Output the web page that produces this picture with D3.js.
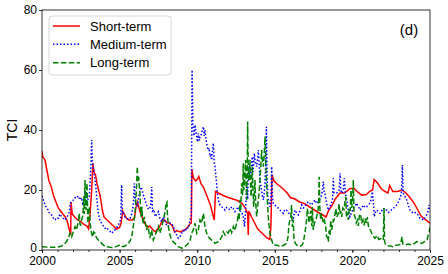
<!DOCTYPE html>
<html><head><meta charset="utf-8">
<script src="https://cdn.jsdelivr.net/npm/d3@7"></script>
<style>body{margin:0;background:#fff}svg{display:block}text{font-family:"Liberation Sans",Arial,sans-serif}</style>
</head><body>
<svg id="c" width="448" height="274"></svg>
<script>
const xTicks = [2000, 2005, 2010, 2015, 2020, 2025];
const yTicks = [0, 20, 40, 60, 80];
const seriesNames = ["Short-term", "Medium-term", "Long-term"];
const panelLabel = "(d)";
const yLabel = "TCI";

const shortTerm = [
[2000.0,33],[2000.05,31],[2000.2,30],[2000.3,27],[2000.45,23],[2000.6,21],[2000.75,18],[2000.9,16],[2001.05,14],[2001.2,13],[2001.35,12],[2001.5,11],[2001.6,10],[2001.7,8],[2001.8,6],[2001.85,5],[2001.87,16],[2001.95,12],[2002.1,11],[2002.3,10],[2002.5,9.5],[2002.7,8.5],[2002.9,8],[2003.0,7],[2003.1,12],[2003.2,20],[2003.28,29],[2003.35,26],[2003.45,25],[2003.55,22],[2003.65,20],[2003.75,18],[2003.9,13],[2004.0,11],[2004.2,10],[2004.4,9],[2004.6,8],[2004.8,7],[2005.0,7.5],[2005.1,9],[2005.2,13],[2005.3,12],[2005.45,10.5],[2005.6,10],[2005.8,10],[2005.95,10.5],[2006.05,14],[2006.15,16],[2006.3,13],[2006.45,11],[2006.6,9],[2006.8,7.5],[2006.95,8],[2007.1,7],[2007.3,6],[2007.45,7],[2007.6,8],[2007.75,10],[2007.9,10],[2008.05,9],[2008.2,9],[2008.4,8],[2008.55,6],[2008.7,6.5],[2008.9,6],[2009.1,6.5],[2009.3,7],[2009.5,8.5],[2009.62,9],[2009.66,27],[2009.75,24],[2009.9,23],[2010.0,23.5],[2010.1,24.5],[2010.25,22],[2010.4,21],[2010.55,19],[2010.7,17],[2010.85,15],[2011.0,12],[2011.1,10],[2011.18,19.5],[2011.35,19],[2011.55,18.5],[2011.75,18],[2012.0,17.5],[2012.3,17],[2012.6,16.5],[2012.9,15.5],[2013.1,14],[2013.25,12],[2013.29,5],[2013.33,13],[2013.5,11],[2013.7,9],[2013.9,7],[2014.1,6],[2014.3,5],[2014.5,4],[2014.68,3.5],[2014.75,8],[2014.82,25],[2014.95,23],[2015.15,22],[2015.4,21],[2015.6,20],[2015.8,19],[2016.0,17.5],[2016.3,17],[2016.6,16],[2016.9,15.5],[2017.2,14.5],[2017.5,13.5],[2017.8,12.5],[2018.0,12],[2018.3,11],[2018.45,13],[2018.7,15],[2018.9,17],[2019.2,19],[2019.5,19],[2019.85,20.5],[2020.1,20.5],[2020.3,19.5],[2020.6,18.3],[2020.9,18.5],[2021.1,19.5],[2021.3,20],[2021.4,23.5],[2021.6,22.5],[2021.85,20.5],[2022.1,19.5],[2022.3,19],[2022.4,21.5],[2022.6,19.5],[2022.9,19.5],[2023.2,20],[2023.45,19],[2023.7,17.5],[2023.95,15.8],[2024.2,13.5],[2024.4,11.5],[2024.6,10.5],[2024.8,9.8],[2025.0,8.9]
];

const mediumTerm = [
[2000.0,18],[2000.1,16.5],[2000.2,15],[2000.3,14],[2000.4,13.3],[2000.5,12],[2000.62,11.7],[2000.75,10.5],[2000.84,10],[2000.95,10.8],[2001.05,10.6],[2001.15,12],[2001.27,11.1],[2001.38,10.5],[2001.48,10],[2001.6,11],[2001.7,11.7],[2001.78,13],[2001.82,15.6],[2001.92,16],[2002.02,16.7],[2002.12,17.5],[2002.23,17.2],[2002.33,18],[2002.45,16.7],[2002.55,17.5],[2002.62,15.6],[2002.7,16.5],[2002.77,19.4],[2002.85,17],[2002.95,16.8],[2003.05,18],[2003.14,26.7],[2003.2,36.7],[2003.25,29],[2003.32,27],[2003.41,23.3],[2003.47,21],[2003.52,17.8],[2003.58,14.5],[2003.63,12.2],[2003.73,10],[2003.84,8.9],[2003.95,8],[2004.06,7.2],[2004.17,7.5],[2004.27,6.7],[2004.38,6.2],[2004.49,5.6],[2004.6,6.2],[2004.7,6.7],[2004.82,7.5],[2004.92,8.3],[2005.02,9.5],[2005.07,10],[2005.13,21.7],[2005.18,12],[2005.24,12.2],[2005.35,11],[2005.46,10.6],[2005.56,10.2],[2005.67,10.6],[2005.78,12],[2005.88,15],[2005.95,22.2],[2006.02,16],[2006.14,14.4],[2006.22,17],[2006.31,20],[2006.4,21],[2006.53,18.3],[2006.62,17],[2006.7,15.6],[2006.8,14],[2006.9,13.5],[2007.0,14.5],[2007.07,21],[2007.12,13],[2007.2,13.5],[2007.3,11.1],[2007.4,12],[2007.5,12.8],[2007.6,10.5],[2007.71,9.4],[2007.82,11],[2007.93,9.5],[2008.03,8.3],[2008.14,7.8],[2008.25,9],[2008.35,8.9],[2008.46,7.8],[2008.57,6.1],[2008.68,5],[2008.78,3.9],[2008.9,4.5],[2009.0,5.6],[2009.1,6.5],[2009.21,6.1],[2009.32,7.5],[2009.43,7.2],[2009.54,10],[2009.62,12],[2009.67,60],[2009.72,42],[2009.75,40],[2009.8,38],[2009.86,41.7],[2009.92,39],[2009.97,37.8],[2010.02,36],[2010.07,38.9],[2010.13,36.5],[2010.18,37.8],[2010.24,38],[2010.29,39.4],[2010.35,40],[2010.4,41.1],[2010.45,38],[2010.5,40],[2010.56,37],[2010.61,35.6],[2010.67,34],[2010.72,33.3],[2010.77,34],[2010.82,31.1],[2010.88,31.5],[2010.93,30],[2010.98,33],[2011.04,35.6],[2011.1,29],[2011.15,27.8],[2011.2,25],[2011.25,22.2],[2011.3,19],[2011.36,16.7],[2011.47,15],[2011.58,14.4],[2011.68,14],[2011.79,13.3],[2011.9,14.2],[2012.0,13.9],[2012.1,13.4],[2012.22,14.4],[2012.33,13.8],[2012.43,12.8],[2012.54,13.5],[2012.65,14.4],[2012.76,13],[2012.86,12.8],[2012.97,11],[2013.05,7.8],[2013.1,11.7],[2013.19,21.1],[2013.25,17],[2013.3,27.8],[2013.35,24],[2013.4,23.3],[2013.47,26],[2013.55,31.1],[2013.6,26],[2013.68,32.2],[2013.75,29],[2013.83,27.8],[2013.88,30],[2013.94,33.3],[2014.0,28],[2014.05,23.3],[2014.1,21.5],[2014.15,20],[2014.2,18],[2014.26,16.7],[2014.32,19],[2014.37,22.2],[2014.42,30],[2014.46,41.1],[2014.5,25],[2014.55,17.8],[2014.62,16],[2014.69,14.4],[2014.75,16],[2014.8,27.8],[2014.85,18],[2014.9,15.6],[2015.0,15],[2015.12,14.4],[2015.22,14],[2015.33,13.3],[2015.44,12.8],[2015.55,12.2],[2015.65,13.5],[2015.76,13.3],[2015.87,12.5],[2015.98,11.7],[2016.08,11],[2016.19,10.6],[2016.3,13.3],[2016.4,12.5],[2016.51,11.7],[2016.62,13],[2016.73,15],[2016.84,14],[2016.94,14.4],[2017.05,15.5],[2017.16,16.1],[2017.27,15.5],[2017.37,15],[2017.48,16],[2017.59,16.7],[2017.7,15.5],[2017.8,16],[2017.91,17],[2018.02,18.3],[2018.13,22.8],[2018.18,19],[2018.23,18.9],[2018.34,15.6],[2018.45,13.3],[2018.55,14.5],[2018.66,15.6],[2018.72,17],[2018.77,23.9],[2018.82,19],[2018.88,18.9],[2018.98,19],[2019.09,19.4],[2019.15,20],[2019.2,25.6],[2019.25,20],[2019.31,18.9],[2019.4,19.5],[2019.48,23.9],[2019.55,19],[2019.63,16.7],[2019.74,13],[2019.84,11.1],[2019.95,12.5],[2020.06,13.9],[2020.17,14.5],[2020.27,15.6],[2020.38,14.5],[2020.49,13.3],[2020.6,14],[2020.7,15],[2020.81,14.2],[2020.92,14.4],[2021.02,15],[2021.13,15.6],[2021.22,17],[2021.28,19.4],[2021.35,16],[2021.41,11.1],[2021.48,12.5],[2021.56,13.3],[2021.67,12.8],[2021.78,12.2],[2021.88,13],[2021.99,13.9],[2022.1,13.2],[2022.21,13.3],[2022.32,12.5],[2022.42,12.8],[2022.53,13.5],[2022.64,13.9],[2022.75,14.5],[2022.85,15],[2022.96,16],[2023.07,17.2],[2023.17,19.4],[2023.22,28.3],[2023.27,19],[2023.35,18.3],[2023.42,17.5],[2023.5,16.7],[2023.6,15],[2023.71,13.3],[2023.82,12.8],[2023.92,12.2],[2024.03,12.5],[2024.14,12.2],[2024.25,11.5],[2024.35,10.6],[2024.46,10.5],[2024.57,10],[2024.68,10.8],[2024.78,11.7],[2024.88,13],[2024.93,15],[2025.0,13.3]
];

const longTerm = [
[2000.0,1.1],[2000.5,0.9],[2000.95,0.9],[2001.27,1.3],[2001.48,2.2],[2001.6,3],[2001.7,3.9],[2001.8,5.6],[2001.91,4.4],[2002.02,6.1],[2002.13,7.8],[2002.23,6.7],[2002.34,9.4],[2002.4,12.2],[2002.45,8.5],[2002.49,8.3],[2002.55,10],[2002.62,11.1],[2002.66,14],[2002.7,17.8],[2002.73,12],[2002.77,23.3],[2002.8,16],[2002.84,13.3],[2002.87,19],[2002.9,22.2],[2002.93,15],[2002.96,8.9],[2003.0,12],[2003.05,14.4],[2003.1,9],[2003.14,7.2],[2003.2,5.5],[2003.26,4.4],[2003.33,6],[2003.41,5.6],[2003.5,4.2],[2003.63,3.3],[2003.74,2.8],[2003.84,2.2],[2004.0,1.5],[2004.17,1.1],[2004.4,0.9],[2004.6,0.8],[2004.8,1.2],[2005.03,1.7],[2005.15,1.2],[2005.24,1.1],[2005.4,1.5],[2005.56,2.2],[2005.68,3],[2005.78,4.4],[2005.88,7.8],[2005.99,12.2],[2006.06,17.8],[2006.1,22],[2006.14,27.8],[2006.18,23],[2006.23,24.4],[2006.27,21],[2006.31,18.9],[2006.35,14],[2006.38,11.1],[2006.44,14.4],[2006.48,10],[2006.53,8.9],[2006.58,11],[2006.64,10],[2006.7,7.5],[2006.74,6.7],[2006.8,8],[2006.85,7.8],[2006.9,5.5],[2006.96,4.4],[2007.02,5.5],[2007.07,6.7],[2007.12,4.5],[2007.17,3.3],[2007.22,4],[2007.28,5],[2007.38,6],[2007.5,7.8],[2007.55,6.5],[2007.6,5.6],[2007.7,7.5],[2007.82,10],[2007.88,11.5],[2007.93,12.8],[2008.0,15.6],[2008.05,16],[2008.08,12],[2008.14,7.8],[2008.25,5],[2008.35,3.3],[2008.57,2.2],[2008.78,1.1],[2009.0,0.6],[2009.21,1.1],[2009.43,2.2],[2009.55,3.5],[2009.64,5.6],[2009.75,6.7],[2009.86,8.9],[2009.97,5.6],[2010.07,6.7],[2010.18,10],[2010.29,9],[2010.35,11],[2010.4,12.2],[2010.45,10],[2010.5,7.8],[2010.61,5.6],[2010.72,4.4],[2010.82,3.8],[2010.93,3.3],[2011.04,2.8],[2011.15,2.2],[2011.36,2.8],[2011.47,3.5],[2011.58,4.4],[2011.68,6.1],[2011.79,5],[2011.9,6],[2012.0,5.6],[2012.11,7.2],[2012.22,5.8],[2012.33,7.8],[2012.43,6.5],[2012.54,8.9],[2012.6,10],[2012.65,12.2],[2012.7,10],[2012.76,16.7],[2012.8,13],[2012.86,22.2],[2012.92,18],[2012.97,28.9],[2013.0,20],[2013.04,21.1],[2013.08,26],[2013.12,30],[2013.16,22],[2013.19,16.7],[2013.22,25],[2013.25,42.8],[2013.28,30],[2013.32,23.3],[2013.36,26],[2013.4,30],[2013.44,22],[2013.47,17.8],[2013.51,22],[2013.55,27.8],[2013.6,19],[2013.64,14.4],[2013.68,18],[2013.72,23.3],[2013.77,16],[2013.83,11.1],[2013.88,14],[2013.94,16.7],[2014.0,20],[2014.05,24.4],[2014.1,28],[2014.15,33.3],[2014.2,30],[2014.26,27.8],[2014.32,32],[2014.37,37.8],[2014.4,33],[2014.43,27.8],[2014.48,21],[2014.52,16.7],[2014.58,11.1],[2014.63,8],[2014.69,5.6],[2014.8,3.3],[2014.9,1.7],[2015.12,1.7],[2015.33,1.1],[2015.55,1.5],[2015.76,2.2],[2015.85,4.3],[2015.92,8.8],[2016.03,11],[2016.08,15],[2016.13,7.7],[2016.19,10],[2016.24,3.2],[2016.35,2],[2016.45,1.5],[2016.6,1.2],[2016.73,1.5],[2016.84,2.5],[2016.95,6],[2017.05,10],[2017.1,13.8],[2017.16,11],[2017.22,9],[2017.26,11.7],[2017.32,13],[2017.38,8],[2017.42,14.3],[2017.48,6.7],[2017.55,9],[2017.64,9.9],[2017.7,11.1],[2017.78,13],[2017.82,15.4],[2017.86,24.4],[2017.9,14.3],[2017.96,10],[2018.02,12],[2018.13,8.9],[2018.2,9.9],[2018.28,7.7],[2018.34,4.4],[2018.39,4.3],[2018.45,2.8],[2018.5,6.5],[2018.56,5],[2018.6,9.9],[2018.66,6.7],[2018.71,8],[2018.77,10],[2018.82,9.9],[2018.88,12],[2018.93,13.8],[2019.0,11],[2019.09,12.2],[2019.14,15.4],[2019.2,12],[2019.25,13],[2019.31,11],[2019.38,14],[2019.46,13.5],[2019.52,16.1],[2019.57,17.7],[2019.62,11],[2019.68,12.5],[2019.74,10],[2019.8,14],[2019.86,13],[2019.91,20],[2019.96,14],[2020.02,18],[2020.06,23.3],[2020.1,12.1],[2020.17,11.1],[2020.25,9],[2020.32,9.9],[2020.38,8],[2020.45,11.5],[2020.53,12],[2020.6,8.9],[2020.68,10],[2020.75,8.2],[2020.81,10.5],[2020.9,9],[2020.96,11],[2021.02,8.3],[2021.1,7],[2021.18,6.5],[2021.24,5.6],[2021.32,5],[2021.39,4.3],[2021.45,3.9],[2021.55,4.5],[2021.61,4.8],[2021.7,3.5],[2021.82,3.8],[2021.9,3.5],[2021.99,3.3],[2022.04,14],[2022.07,3],[2022.14,1.7],[2022.3,1.4],[2022.47,1.3],[2022.6,1.1],[2022.8,1.6],[2022.96,1.7],[2023.1,1.9],[2023.2,4.4],[2023.25,2],[2023.39,1.7],[2023.6,2],[2023.82,1.7],[2024.0,2.2],[2024.14,2.8],[2024.3,2.5],[2024.46,2.2],[2024.6,2.6],[2024.72,3.2],[2024.82,3.5],[2024.89,5.2],[2024.95,6],[2025.0,7.5]
];

const svg = d3.select("#c");
const m = {l: 42, r: 18, t: 10, b: 24};
const W = 448, H = 274;
const x = d3.scaleLinear().domain([2000, 2025]).range([m.l, W - m.r]);
const y = d3.scaleLinear().domain([0, 80]).range([H - m.b, m.t]);

svg.append("clipPath").attr("id", "pc").append("rect")
  .attr("x", m.l).attr("y", m.t).attr("width", W - m.r - m.l).attr("height", H - m.b - m.t);

const line = d3.line().x(d => x(d[0])).y(d => y(d[1]));
const g = svg.append("g").attr("clip-path", "url(#pc)");
const styles = [
  {data: shortTerm, color: "#ff0000", dash: null},
  {data: mediumTerm, color: "#0000ff", dash: "1.5,2"},
  {data: longTerm, color: "#008000", dash: "5.5,2.4"}
];
styles.forEach(s => {
  g.append("path").datum(s.data).attr("d", line)
    .attr("fill", "none").attr("stroke", s.color).attr("stroke-width", 1.5)
    .attr("stroke-dasharray", s.dash);
});

// axes
const xAxis = d3.axisBottom(x).tickValues(xTicks).tickFormat(d3.format("d")).tickSize(3).tickPadding(3.5);
const xMinor = d3.axisBottom(x).tickValues(d3.range(2000, 2026)).tickFormat("").tickSize(2);
const yAxis = d3.axisLeft(y).tickValues(yTicks).tickSize(3).tickPadding(2);

const gx = svg.append("g").attr("transform", `translate(0,${H - m.b})`).call(xAxis);
svg.append("g").attr("transform", `translate(0,${H - m.b})`).call(xMinor).select(".domain").remove();
const gy = svg.append("g").attr("transform", `translate(${m.l},0)`).call(yAxis);
[gx, gy].forEach(a => {
  a.selectAll("text").attr("font-size", 12).attr("fill", "#000").style("font-family", '"Liberation Sans",Arial,sans-serif');
  a.select(".domain").remove();
});
gy.selectAll(".tick").filter(d => d === 0).select("text").attr("dy", "0.1em");
svg.selectAll(".tick line").attr("stroke", "#000").attr("stroke-width", 0.8);

// frame
svg.append("rect").attr("x", m.l).attr("y", m.t).attr("width", W - m.r - m.l).attr("height", H - m.b - m.t)
  .attr("fill", "none").attr("stroke", "#000").attr("stroke-width", 0.8);

// y label
svg.append("text").attr("transform", `translate(17,${(m.t + H - m.b) / 2}) rotate(-90)`)
  .attr("text-anchor", "middle").attr("font-size", 14).text(yLabel);

// panel label
svg.append("text").attr("x", 409).attr("y", 35).attr("text-anchor", "middle").attr("font-size", 15).text(panelLabel);

// legend
const lg = svg.append("g");
lg.append("rect").attr("x", 49).attr("y", 16).attr("width", 122).attr("height", 59).attr("rx", 3)
  .attr("fill", "#fff").attr("fill-opacity", 0.8).attr("stroke", "#cccccc").attr("stroke-width", 0.8);
const ly = [26, 44.3, 62.7];
seriesNames.forEach((n, i) => {
  lg.append("line").attr("x1", 53).attr("x2", 80).attr("y1", ly[i]).attr("y2", ly[i])
    .attr("stroke", styles[i].color).attr("stroke-width", 1.5).attr("stroke-dasharray", styles[i].dash);
  lg.append("text").attr("x", 90).attr("y", ly[i] + 4.5).attr("font-size", 13).text(n);
});
</script>
</body></html>
